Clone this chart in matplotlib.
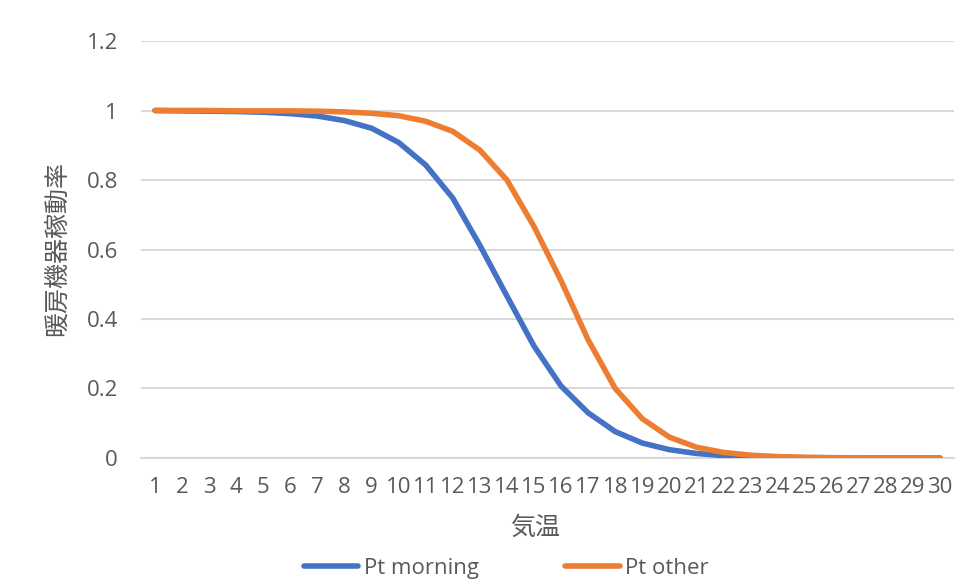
import matplotlib
matplotlib.use("Agg")
import matplotlib.pyplot as plt

# Outdoor temperature categories (°C)
temps = list(range(1, 31))
x_labels = [str(t) for t in temps]

# Heating equipment operating ratio per temperature
pt_morning = [1.000, 0.999, 0.998, 0.997, 0.995, 0.991, 0.984, 0.971, 0.949, 0.908,
              0.843, 0.748, 0.612, 0.466, 0.322, 0.207, 0.130, 0.076, 0.043, 0.024,
              0.013, 0.007, 0.004, 0.002, 0.001, 0.0006, 0.0003, 0.0002, 0.0001, 0.0001]
pt_other = [1.000, 1.000, 1.000, 0.999, 0.999, 0.999, 0.998, 0.996, 0.992, 0.985,
            0.969, 0.940, 0.886, 0.800, 0.666, 0.510, 0.340, 0.200, 0.113, 0.060,
            0.031, 0.016, 0.008, 0.004, 0.002, 0.001, 0.0005, 0.0003, 0.0001, 0.0001]

y_ticks = [0, 0.2, 0.4, 0.6, 0.8, 1.0, 1.2]
y_tick_labels = ["0", "0.2", "0.4", "0.6", "0.8", "1", "1.2"]

series_names = ["Pt morning", "Pt other"]
x_title = "気温"
y_title = "暖房機器稼動率"

TEXT = "#595959"
GRID = "#D9D9D9"
BLUE = "#4472C4"
ORANGE = "#ED7D31"
LATIN = ["Open Sans", "Noto Sans CJK JP", "DejaVu Sans"]
CJK = ["Noto Sans CJK JP", "DejaVu Sans"]

plt.rcParams["font.family"] = LATIN

fig = plt.figure(figsize=(9.59, 5.85), dpi=100)
ax = fig.add_axes([0.1475, 0.2171, 0.8469, 0.7128])

pos = list(range(len(temps)))
ax.plot(pos, pt_morning, color=BLUE, lw=4.0, solid_capstyle="round",
        solid_joinstyle="round", label=series_names[0], zorder=3)
ax.plot(pos, pt_other, color=ORANGE, lw=4.0, solid_capstyle="round",
        solid_joinstyle="round", label=series_names[1], zorder=4)

ax.set_xlim(-0.5, len(temps) - 0.5)
ax.set_ylim(0, 1.2)
ax.set_yticks(y_ticks)
ax.set_yticklabels(y_tick_labels)
ax.set_xticks(pos)
ax.set_xticklabels(x_labels)

ax.grid(axis="y", color=GRID, lw=1.5, zorder=0)
ax.set_axisbelow(True)
for side in ["top", "right", "left"]:
    ax.spines[side].set_visible(False)
ax.spines["bottom"].set_color(GRID)
ax.spines["bottom"].set_linewidth(1.5)

ax.tick_params(axis="both", length=0, colors=TEXT, labelsize=16)
ax.tick_params(axis="y", pad=17)
ax.tick_params(axis="x", pad=14)

fig.text(0.558, 0.098, x_title, ha="center", va="center", color=TEXT,
         fontsize=18, family=CJK)
fig.text(0.059, 0.575, y_title, ha="center", va="center", rotation=90,
         color=TEXT, fontsize=18, family=CJK)

leg = fig.legend(loc="center", bbox_to_anchor=(0.528, 0.028), ncol=2,
                 frameon=False, fontsize=16, handlelength=2.45,
                 handletextpad=0.25, columnspacing=3.9)
for t in leg.get_texts():
    t.set_color(TEXT)

fig.savefig("out.png", dpi=100, facecolor="white")
